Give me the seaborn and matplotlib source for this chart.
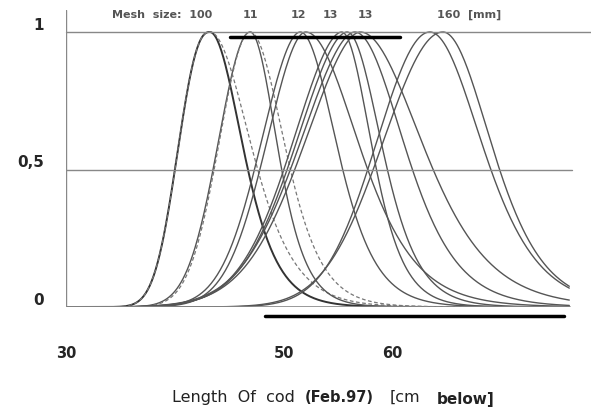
import numpy as np
import pandas as pd
import seaborn as sns
import matplotlib.pyplot as plt
from matplotlib.transforms import ScaledTranslation

# mesh size labels along the top, with their x position in pixels
mesh_labels = ["Mesh  size:  100", "11", "12", "13", "13", "160  [mm]"]
mesh_label_px = [162, 250, 298, 330, 365, 469]

# selectivity curves: length at the top (cm) and lengths where each side passes 0.5
peak_len = [43.2, 43.2, 46.9, 46.9, 51.5, 52.0, 55.3, 55.8, 56.5, 57.0, 63.4, 64.6]
half_left = [40.0, 40.0, 43.5, 43.6, 47.3, 47.8, 50.0, 50.3, 50.6, 51.0, 57.7, 58.2]
half_right = [46.7, 47.6, 49.8, 50.6, 55.4, 57.7, 58.5, 59.5, 61.8, 63.7, 69.0, 69.8]
# steepness of the lower left flank (larger = shorter tail)
left_shape = [2.4, 2.4, 2.0, 2.0, 1.9, 1.9, 1.8, 1.8, 1.8, 1.8, 2.0, 2.0]
curve_dashed = [False, True, False, True, False, False, False, False, False, False, False, False]

x_ticks = [30, 40, 50, 60, 70]
x_ticklabels = ["30", "", "50", "60", ""]
y_ticks = [0, 0.5, 1]
y_ticklabels = ["0", "0,5", "1"]


def selectivity(x, m, lo, hi, p):
    # left flank: generalised bell; right flank: sech^2 with a long tail
    left = np.exp(-np.log(2) * (np.abs(x - m) / (m - lo)) ** p)
    s = (hi - m) / 1.763
    right = 1 / np.cosh((x - m) / (2 * s)) ** 2
    return np.where(x < m, left, right)


length = np.linspace(30, 76.2, 500)
frames = []
for i, (m, lo, hi, p) in enumerate(zip(peak_len, half_left, half_right, left_shape)):
    frames.append(pd.DataFrame({"curve": i, "length": length,
                                "retention": selectivity(length, m, lo, hi, p)}))
data = pd.concat(frames, ignore_index=True)

sns.set_style("white")
plt.rcParams["font.family"] = ["DejaVu Sans"]

W, H = 591, 412
fig = plt.figure(figsize=(W / 100, H / 100), dpi=100)
ax = fig.add_axes([66 / W, 105 / H, 512 / W, 297 / H])

for i, dashed in enumerate(curve_dashed):
    sub = data[data["curve"] == i]
    if dashed:
        color, lw, ls = "#777777", 0.9, (0, (3, 2))
    elif i == 0:
        color, lw, ls = "#333333", 1.4, "-"
    else:
        color, lw, ls = "#555555", 1.0, "-"
    sns.lineplot(data=sub, x="length", y="retention", ax=ax,
                 color=color, lw=lw, linestyle=ls)

ax.set_xlim(30, 77)
ax.set_ylim(0, 1.08)
for s in ax.spines.values():
    s.set_visible(False)

# frame lines of the scanned figure
ax.axvline(30, ymin=0, ymax=1, color="#888888", lw=1)
ax.axhline(0, xmin=0, xmax=(570 - 66) / 512, color="#888888", lw=1.2)
ax.axhline(0.5, xmin=0, xmax=(572 - 66) / 512, color="#888888", lw=1)
ax.axhline(1, xmin=0, xmax=(591 - 66) / 512, color="#888888", lw=1, clip_on=False)
# black bars from the scan
ax.axhline(0.982, xmin=(230 - 66) / 512, xmax=(400 - 66) / 512, color="black", lw=2.5)
ax.axhline(-0.033, xmin=(265 - 66) / 512, xmax=(564 - 66) / 512, color="black",
           lw=2.5, clip_on=False)

ax.set_xticks(x_ticks)
ax.set_xticklabels(x_ticklabels, fontweight="bold", fontsize=10.5)
ax.set_yticks(y_ticks)
ax.set_yticklabels(y_ticklabels, fontweight="bold", fontsize=11)
ax.tick_params(axis="x", direction="out", length=4, width=0.8, color="#888888", pad=24)
ax.tick_params(axis="y", direction="out", length=3, width=0.8, color="#888888", pad=13)
up = ScaledTranslation(0, 6 / 72, fig.dpi_scale_trans)
for lab in ax.get_yticklabels():
    lab.set_transform(lab.get_transform() + up)
ax.set_xlabel("")
ax.set_ylabel("")

for txt, px in zip(mesh_labels, mesh_label_px):
    fig.text(px / W, 1 - 15 / H, txt, ha="center", va="center", fontsize=8,
             fontweight="bold", color="#555555")

fig.text(172 / W, 1 - 402 / H, "Length  Of  cod", fontsize=11.5, color="#222222",
         va="baseline")
fig.text(305 / W, 1 - 402 / H, "(Feb.97)", fontsize=10.5, fontweight="bold",
         color="#222222", va="baseline")
fig.text(390 / W, 1 - 402 / H, "[cm", fontsize=11.5, color="#222222", va="baseline")
fig.text(437 / W, 1 - 404 / H, "below]", fontsize=11, fontweight="bold",
         color="#222222", va="baseline")

fig.savefig("out.png", dpi=100, facecolor="white")
